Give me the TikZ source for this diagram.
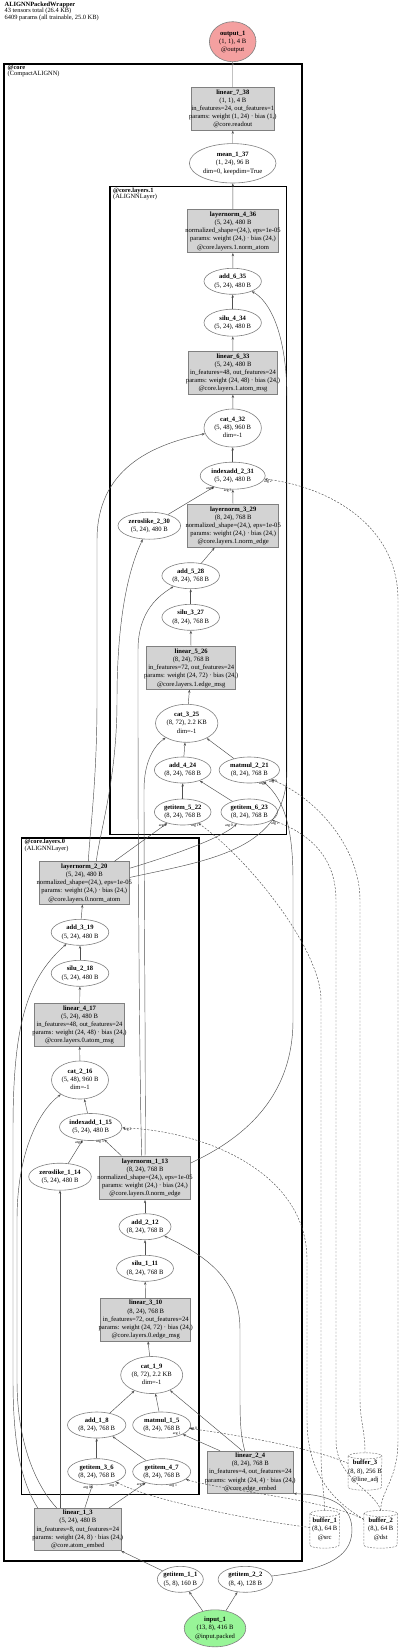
\documentclass[tikz,border=0pt]{standalone}
\usepackage{fontspec}
\setmainfont{Liberation Serif}
\usetikzlibrary{arrows.meta,shapes.geometric}
\definecolor{boxfill}{HTML}{D3D3D3}
\definecolor{bord}{HTML}{808080}
\definecolor{edgec}{HTML}{505050}
\definecolor{outfill}{HTML}{F4A0A0}
\definecolor{infill}{HTML}{98F598}
\newcommand{\nl}[2]{\makebox[0pt]{\fontsize{6.6}{8.2}\selectfont\begin{tabular}{@{}c@{}}\textbf{#1}\\#2\end{tabular}}}
\newcommand{\cyl}[2]{\draw[draw=bord,line width=0.5pt,dash pattern=on 2pt off 1.2pt] ([yshift=-3pt]#1.north west) -- ([yshift=3pt]#1.south west) arc[start angle=180,end angle=360,x radius=#2,y radius=3pt] -- ([yshift=-3pt]#1.north east) arc[start angle=0,end angle=180,x radius=#2,y radius=3pt] arc[start angle=180,end angle=360,x radius=#2,y radius=3pt];}
\pgfdeclarelayer{bg}
\pgfsetlayers{bg,main}
\tikzset{
  opbox/.style={rectangle, draw=bord, fill=boxfill, line width=0.6pt, inner sep=0pt},
  opell/.style={ellipse, draw=bord, fill=white, line width=0.6pt, inner sep=0pt},
  bufnode/.style={rectangle, inner sep=0pt},
  edge/.style={draw=edgec, line width=0.45pt, -{Stealth[length=3.2pt,width=2.4pt]}},
  dedge/.style={edge, dash pattern=on 2pt off 1.5pt},
  arglab/.style={font=\fontsize{3.8}{4}\selectfont, inner sep=0pt},
  cluster/.style={draw=black, line width=1.7pt},
  subcluster/.style={draw=black, line width=1.3pt},
  cluslab/.style={anchor=north west, align=left, inner sep=0pt, font=\fontsize{6.4}{5.6}\selectfont},
}
\begin{document}
\begin{tikzpicture}[x=1pt,y=-1pt]
\useasboundingbox (0,0) rectangle (400,1649);
% title
\node[cluslab] (title) at (4.5,1.5) {\textbf{ALIGNNPackedWrapper}\\43 tensors total (26.4 KB)\\6409 params (all trainable, 25.0 KB)};
% clusters
\begin{pgfonlayer}{bg}
\draw[cluster] (4.3,64) rectangle (302.3,1560.7);
\draw[subcluster] (110,186.7) rectangle (286.7,834.7);
\draw[subcluster] (21.7,838) rectangle (199,1494.3);
\end{pgfonlayer}
\node[cluslab] (lcore) at (7.5,64.8) {\textbf{@core}\\(CompactALIGNN)};
\node[cluslab] (llay1) at (113,187.5) {\textbf{@core.layers.1}\\(ALIGNNLayer)};
\node[cluslab] (llay0) at (24.5,838.8) {\textbf{@core.layers.0}\\(ALIGNNLayer)};

% nodes
\node[opell, fill=outfill, minimum width=46.6pt, minimum height=40pt] (out1) at (232.7,41.7) {\nl{output\_1}{(1, 1), 4 B\\@output}};
\node[opbox, minimum width=83.7pt, minimum height=43pt] (l738) at (232.8,108.8) {\nl{linear\_7\_38}{(1, 1), 4 B\\in\_features=24, out\_features=1\\params: weight (1, 24) · bias (1,)\\@core.readout}};
\node[opell, minimum width=86.6pt, minimum height=39.4pt] (mean137) at (232.7,163.3) {\nl{mean\_1\_37}{(1, 24), 96 B\\dim=0, keepdim=True}};
\node[opbox, minimum width=91.4pt, minimum height=43.4pt] (ln436) at (233,231) {\nl{layernorm\_4\_36}{(5, 24), 480 B\\normalized\_shape=(24,), eps=1e-05\\params: weight (24,) · bias (24,)\\@core.layers.1.norm\_atom}};
\node[opell, minimum width=57.4pt, minimum height=26pt] (add635) at (232.7,281.3) {\nl{add\_6\_35}{(5, 24), 480 B}};
\node[opell, minimum width=57.4pt, minimum height=27pt] (silu434) at (232.7,322.7) {\nl{silu\_4\_34}{(5, 24), 480 B}};
\node[opbox, minimum width=88.6pt, minimum height=43pt] (l633) at (233,372.8) {\nl{linear\_6\_33}{(5, 24), 480 B\\in\_features=48, out\_features=24\\params: weight (24, 48) · bias (24,)\\@core.layers.1.atom\_msg}};
\node[opell, minimum width=57.4pt, minimum height=38pt] (cat432) at (232.7,428) {\nl{cat\_4\_32}{(5, 48), 960 B\\dim=-1}};
\node[opell, minimum width=65pt, minimum height=27pt] (ia231) at (232.7,475.7) {\nl{indexadd\_2\_31}{(5, 24), 480 B}};
\node[opell, minimum width=62.6pt, minimum height=27pt] (zl230) at (149.3,525.7) {\nl{zeroslike\_2\_30}{(5, 24), 480 B}};
\node[opbox, minimum width=91pt, minimum height=43pt] (ln329) at (233.2,525.8) {\nl{layernorm\_3\_29}{(8, 24), 768 B\\normalized\_shape=(24,), eps=1e-05\\params: weight (24,) · bias (24,)\\@core.layers.1.norm\_edge}};
\node[opell, minimum width=57.6pt, minimum height=26pt] (add528) at (190.7,575.7) {\nl{add\_5\_28}{(8, 24), 768 B}};
\node[opell, minimum width=57.6pt, minimum height=26pt] (silu327) at (190.7,617.3) {\nl{silu\_3\_27}{(8, 24), 768 B}};
\node[opbox, minimum width=89pt, minimum height=42.6pt] (l526) at (191.2,668) {\nl{linear\_5\_26}{(8, 24), 768 B\\in\_features=72, out\_features=24\\params: weight (24, 72) · bias (24,)\\@core.layers.1.edge\_msg}};
\node[opell, minimum width=62.4pt, minimum height=38pt] (cat325) at (186.7,723.3) {\nl{cat\_3\_25}{(8, 72), 2.2 KB\\dim=-1}};
\node[opell, minimum width=56.6pt, minimum height=26pt] (add424) at (182.7,770) {\nl{add\_4\_24}{(8, 24), 768 B}};
\node[opell, minimum width=60.4pt, minimum height=26pt] (mm221) at (249.3,770) {\nl{matmul\_2\_21}{(8, 24), 768 B}};
\node[opell, minimum width=56.6pt, minimum height=26pt] (gi522) at (182.7,812) {\nl{getitem\_5\_22}{(8, 24), 768 B}};
\node[opell, minimum width=56.6pt, minimum height=26pt] (gi623) at (249.3,812) {\nl{getitem\_6\_23}{(8, 24), 768 B}};
\node[opbox, minimum width=90.7pt, minimum height=42.6pt] (ln220) at (84.3,883) {\nl{layernorm\_2\_20}{(5, 24), 480 B\\normalized\_shape=(24,), eps=1e-05\\params: weight (24,) · bias (24,)\\@core.layers.0.norm\_atom}};
\node[opell, minimum width=57.6pt, minimum height=26pt] (add319) at (80,932.3) {\nl{add\_3\_19}{(5, 24), 480 B}};
\node[opell, minimum width=57.6pt, minimum height=26pt] (silu218) at (80,973.3) {\nl{silu\_2\_18}{(5, 24), 480 B}};
\node[opbox, minimum width=89.6pt, minimum height=43pt] (l417) at (79.5,1024.8) {\nl{linear\_4\_17}{(5, 24), 480 B\\in\_features=48, out\_features=24\\params: weight (24, 48) · bias (24,)\\@core.layers.0.atom\_msg}};
\node[opell, minimum width=57pt, minimum height=38pt] (cat216) at (80,1080) {\nl{cat\_2\_16}{(5, 48), 960 B\\dim=-1}};
\node[opell, minimum width=62.4pt, minimum height=27pt] (ia115) at (90.7,1127) {\nl{indexadd\_1\_15}{(5, 24), 480 B}};
\node[opell, minimum width=62.6pt, minimum height=27pt] (zl114) at (60,1176.7) {\nl{zeroslike\_1\_14}{(5, 24), 480 B}};
\node[opbox, minimum width=91.4pt, minimum height=43.7pt] (ln113) at (145,1177.8) {\nl{layernorm\_1\_13}{(8, 24), 768 B\\normalized\_shape=(24,), eps=1e-05\\params: weight (24,) · bias (24,)\\@core.layers.0.norm\_edge}};
\node[opell, minimum width=52pt, minimum height=26pt] (add212) at (145,1226.7) {\nl{add\_2\_12}{(8, 24), 768 B}};
\node[opell, minimum width=57pt, minimum height=26pt] (silu111) at (145,1268.3) {\nl{silu\_1\_11}{(8, 24), 768 B}};
\node[opbox, minimum width=90pt, minimum height=42.7pt] (l310) at (145.7,1319.7) {\nl{linear\_3\_10}{(8, 24), 768 B\\in\_features=72, out\_features=24\\params: weight (24, 72) · bias (24,)\\@core.layers.0.edge\_msg}};
\node[opell, minimum width=62pt, minimum height=37pt] (cat19) at (151.7,1375) {\nl{cat\_1\_9}{(8, 72), 2.2 KB\\dim=-1}};
\node[opell, minimum width=58.4pt, minimum height=26pt] (add18) at (96.7,1425) {\nl{add\_1\_8}{(8, 24), 768 B}};
\node[opell, minimum width=58pt, minimum height=26pt] (mm15) at (161.7,1425) {\nl{matmul\_1\_5}{(8, 24), 768 B}};
\node[opell, minimum width=58pt, minimum height=26pt] (gi36) at (96.7,1471.7) {\nl{getitem\_3\_6}{(8, 24), 768 B}};
\node[opell, minimum width=58pt, minimum height=26pt] (gi47) at (161.7,1471.7) {\nl{getitem\_4\_7}{(8, 24), 768 B}};
\node[opbox, minimum width=86pt, minimum height=42.3pt] (l24) at (250.3,1472.2) {\nl{linear\_2\_4}{(8, 24), 768 B\\in\_features=4, out\_features=24\\params: weight (24, 4) · bias (24,)\\@core.edge\_embed}};
\node[opbox, minimum width=86.3pt, minimum height=42.4pt] (l13) at (77.8,1529.5) {\nl{linear\_1\_3}{(5, 24), 480 B\\in\_features=8, out\_features=24\\params: weight (24, 8) · bias (24,)\\@core.atom\_embed}};
\node[bufnode, minimum width=33.3pt, minimum height=37pt] (buf3) at (365,1471.5) {\nl{buffer\_3}{(8, 8), 256 B\\@line\_adj}};
\node[bufnode, minimum width=29.3pt, minimum height=37.3pt] (buf1) at (324.7,1529.3) {\nl{buffer\_1}{(8,), 64 B\\@src}};
\node[bufnode, minimum width=33.3pt, minimum height=37.3pt] (buf2) at (380.7,1529.3) {\nl{buffer\_2}{(8,), 64 B\\@dst}};
\cyl{buf3}{16.65pt}
\cyl{buf1}{14.65pt}
\cyl{buf2}{16.65pt}
\node[opell, minimum width=46pt, minimum height=26pt] (gi11) at (180.3,1579.3) {\nl{getitem\_1\_1}{(5, 8), 160 B}};
\node[opell, minimum width=54.4pt, minimum height=26pt] (gi22) at (245.3,1579.3) {\nl{getitem\_2\_2}{(8, 4), 128 B}};
\node[opell, fill=infill, minimum width=61.6pt, minimum height=37pt] (in1) at (215,1628.3) {\nl{input\_1}{(13, 8), 416 B\\@input.packed}};

% solid edges
\draw[edge] (l738) -- (out1);
\draw[edge] (mean137) -- (l738);
\draw[edge] (ln436) -- (mean137);
\draw[edge] (add635) -- (ln436);
\draw[edge] (silu434) -- (add635);
\draw[edge] (l633) -- (silu434);
\draw[edge] (cat432) -- (l633);
\draw[edge] (ia231) -- (cat432);
\draw[edge] (ln329) -- (ia231);
\draw[edge] (zl230) -- (ia231);
\draw[edge] (add528) -- (ln329);
\draw[edge] (silu327) -- (add528);
\draw[edge] (l526) -- (silu327);
\draw[edge] (cat325) -- (l526);
\draw[edge] (add424) -- (cat325);
\draw[edge] (mm221) -- (cat325);
\draw[edge] (gi522) -- (add424);
\draw[edge] (gi623) -- (add424);
\draw[edge] (ln220) -- (gi522);
\draw[edge] (ln220.18) .. controls (190,850) and (225,835) .. (gi623);
\draw[edge] (ln220.7) .. controls (210,860) and (287,850) .. (287,770) -- (287,400) .. controls (287,330) and (268,300) .. (add635);
\draw[edge] ([xshift=12pt]ln220.north) .. controls (100,830) and (117,780) .. (117,700) .. controls (117,620) and (128,570) .. (zl230);
\draw[edge] ([xshift=4pt]ln220.north) .. controls (90,830) and (97,780) .. (97,700) -- (97,540) .. controls (97,470) and (150,445) .. (cat432);
\draw[edge] (ln113.north) .. controls (146,1100) and (144,900) .. (144,790) .. controls (144,760) and (155,745) .. (cat325);
\draw[edge] ([xshift=-3.3pt]ln113.north) .. controls (140,1100) and (138,900) .. (138,700) -- (138,650) .. controls (138,610) and (160,595) .. (add528);
\draw[edge] (ln113.18) .. controls (240,1140) and (293,1100) .. (293,1020) -- (293,880) .. controls (293,830) and (285,800) .. (mm221);
\draw[edge] (ln113) -- (ia115);
\draw[edge] (zl114) -- (ia115);
\draw[edge] (ia115) -- (cat216);
\draw[edge] (cat216) -- (l417);
\draw[edge] (l417) -- (silu218);
\draw[edge] (silu218) -- (add319);
\draw[edge] (add319) -- (ln220);
\draw[edge] ([xshift=-40pt]l13.north) .. controls (20,1480) and (13,1440) .. (13,1380) -- (13,1130) .. controls (13,1030) and (25,980) .. (add319);
\draw[edge] ([xshift=-21pt]l13.north) .. controls (40,1490) and (17,1450) .. (17,1380) -- (17,1220) .. controls (17,1150) and (40,1110) .. (cat216);
\draw[edge] (l13.north -| zl114.south) -- (zl114.south);
\draw[edge] (l13) -- (gi36);
\draw[edge] (l13) -- (gi47);
\draw[edge] (gi36) -- (add18);
\draw[edge] (gi47) -- (add18);
\draw[edge] (add18) -- (cat19);
\draw[edge] (mm15) -- (cat19);
\draw[edge] ([xshift=-8pt]l24.north) -- (cat19);
\draw[edge] ([xshift=13pt]l24.north west) -- (mm15);
\draw[edge] (cat19) -- (l310);
\draw[edge] (l310) -- (silu111);
\draw[edge] (silu111) -- (add212);
\draw[edge] (add212) -- (ln113);
\draw[edge] (l24) .. controls (242,1440) and (240,1430) .. (240,1400) -- (240,1330) .. controls (240,1285) and (215,1260) .. (add212);
\draw[edge] (gi11) -- (l13.south east);
\draw[edge] (in1) -- (gi11);
\draw[edge] (in1) -- (gi22);
\draw[edge] (gi22) .. controls (320,1570) and (352,1560) .. (352,1530) .. controls (352,1500) and (320,1494) .. (l24.south east);

% dashed edges
\draw[dedge] (buf2.north) .. controls (381,1490) and (398,1480) .. (398,1440) -- (398,600) .. controls (398,520) and (320,485) .. (ia231);
\draw[dedge] (buf2.north) .. controls (375,1490) and (336,1480) .. (336,1440) -- (336,900) .. controls (336,850) and (300,830) .. (gi623);
\draw[dedge] (buf1.north) .. controls (324,1490) and (321,1480) .. (321,1450) -- (321,1000) .. controls (321,950) and (250,860) .. (gi522);
\draw[dedge] (buf3.north) .. controls (365,1430) and (360,1420) .. (360,1400) -- (360,900) .. controls (360,850) and (320,800) .. (mm221);
\draw[dedge] (buf2) .. controls (340,1505) and (307,1480) .. (307,1420) -- (307,1260) .. controls (307,1170) and (200,1130) .. (ia115);
\draw[dedge] (buf3) .. controls (320,1450) and (240,1435) .. (mm15);
\draw[dedge] (buf1) .. controls (250,1520) and (150,1500) .. (gi36);
\draw[dedge] (buf2) .. controls (330,1500) and (220,1490) .. (gi47);

% arg labels
\node[arglab] (a1) at (210,489) {arg 0};
\node[arglab] (a2) at (227.7,491) {arg 3};
\node[arglab] (a3) at (268,482) {arg 2};
\node[arglab] (a4) at (263,784) {arg 1};
\node[arglab] (a5) at (273,782) {arg 0};
\node[arglab] (a6) at (162.7,826) {arg 0};
\node[arglab] (a7) at (195,826) {arg 1};
\node[arglab] (a8) at (229,826) {arg 0};
\node[arglab] (a9) at (275,824) {arg 1};
\node[arglab] (a10) at (79,1142.7) {arg 0};
\node[arglab] (a11) at (100,1142) {arg 3};
\node[arglab] (a12) at (127.7,1130) {arg 2};
\node[arglab] (a13) at (87.3,1487.3) {arg 0};
\node[arglab] (a14) at (113.3,1486) {arg 1};
\node[arglab] (a15) at (140.7,1485) {arg 0};
\node[arglab] (a16) at (173.3,1486) {arg 1};
\node[arglab] (a17) at (176.7,1434) {arg 1};
\node[arglab] (a18) at (193.3,1428.3) {arg 0};
\end{tikzpicture}
\end{document}
